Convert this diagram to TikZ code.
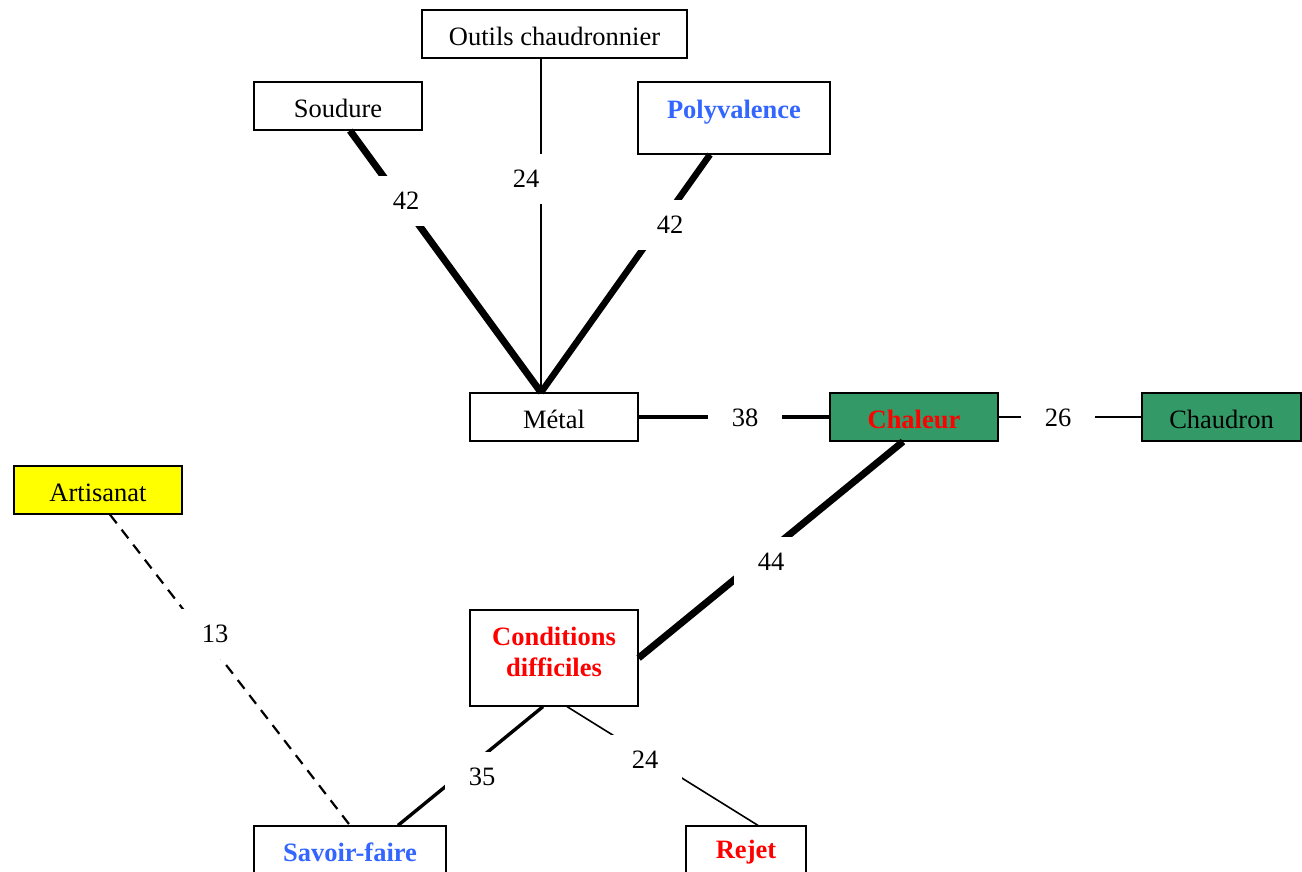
\documentclass[tikz,border=0pt]{standalone}
\usepackage{fontspec}
\setmainfont{Liberation Serif}
\usetikzlibrary{calc}
\definecolor{boxgreen}{HTML}{339966}
\definecolor{txtblue}{HTML}{3366FF}
\definecolor{txtred}{HTML}{FF0000}
\definecolor{boxyellow}{HTML}{FFFF00}
\tikzset{
  box/.style={draw=black, line width=0.6pt, rectangle, inner sep=0pt, minimum height=24pt, minimum width=84pt, font=\fontsize{13.25pt}{15.5pt}\selectfont},
  lowtxt/.style={text height=12pt, text depth=0.3pt},
  blue/.style={text=txtblue, font=\fontsize{13.25pt}{15.5pt}\selectfont\bfseries},
  redtxt/.style={text=txtred, font=\fontsize{13.25pt}{15.5pt}\selectfont\bfseries},
  lbl/.style={fill=white, inner sep=0pt, minimum width=37pt, minimum height=25pt, font=\fontsize{13.25pt}{15.5pt}\selectfont},
  conn/.style={draw=black, line cap=butt},
}
\begin{document}
\begin{tikzpicture}[x=0.5pt,y=-0.5pt]
\useasboundingbox (0,0) rectangle (1302,872);
% nodes
\node[box, lowtxt, minimum width=132.5pt] (outils) at (554.5,34) {Outils chaudronnier};
\node[box, lowtxt] (soudure) at (338,106) {Soudure};
\node[box, blue, minimum width=96pt, minimum height=0pt, text height=18.5pt, text depth=17.5pt] (poly) at (734,118) {Polyvalence};
\node[box, lowtxt] (metal) at (554,417) {Métal};
\node[box, lowtxt, fill=boxgreen, redtxt] (chaleur) at (914,417) {Chaleur};
\node[box, lowtxt, fill=boxgreen, minimum width=79.5pt] (chaudron) at (1221.5,417) {Chaudron};
\node[box, lowtxt, fill=boxyellow] (artisanat) at (98,490) {Artisanat};
\node[box, minimum height=48pt] (cond) at (554,658) {};
\node[redtxt, align=center, inner sep=0pt] (condtxt) at (554,652) {Conditions\\difficiles};
\node[box, blue, minimum width=96pt, minimum height=26pt] (savoir) at (350,852) {Savoir-faire};
\node[box, redtxt, minimum width=60pt, minimum height=26pt] (rejet) at (746,852) {Rejet};
% connectors
\draw[conn, line width=3.5pt] ([xshift=6pt]soudure.south) -- ([xshift=-6.5pt]metal.north);
\draw[conn, line width=0.8pt] ([xshift=-6.75pt]outils.south) -- ([xshift=-6.5pt]metal.north);
\draw[conn, line width=3.25pt] ([xshift=-12pt]poly.south) -- ([xshift=-6.5pt]metal.north);
\draw[conn, line width=2pt] (metal.east) -- (chaleur.west);
\draw[conn, line width=1pt] (chaleur.east) -- (chaudron.west);
\draw[conn, line width=3.5pt] ([xshift=-5.5pt]chaleur.south) -- (cond.east);
\draw[conn, line width=1.1pt, dash pattern=on 5.5pt off 4pt] ([xshift=6pt]artisanat.south) -- (savoir.north);
\draw[conn, line width=1.7pt] ([xshift=-5.5pt]cond.south) -- ([xshift=24pt]savoir.north);
\draw[conn, line width=0.8pt] ([xshift=6.5pt]cond.south) -- ([xshift=6pt]rejet.north);
% labels
\node[lbl] (l42a) at (406,201) {42};
\node[lbl] (l24a) at (526,179) {24};
\node[lbl] (l42b) at (670,225) {42};
\node[lbl] (l38) at (745,418) {38};
\node[lbl] (l26) at (1058,418) {26};
\node[lbl] (l44) at (771,562) {44};
\node[lbl] (l13) at (215,634) {13};
\node[lbl] (l35) at (482,777) {35};
\node[lbl] (l24b) at (645,760) {24};
\end{tikzpicture}
\end{document}
